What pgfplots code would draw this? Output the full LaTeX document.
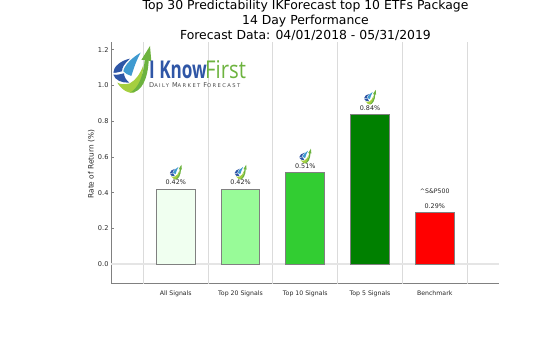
\documentclass[border=0pt]{standalone}
\usepackage{pgfplots}
\pgfplotsset{compat=1.18}
\usepackage{fontspec}
\setmainfont{DejaVu Sans}
\newfontfamily\logofont{Open Sans}
\definecolor{lgdark}{HTML}{2F56A6}
\definecolor{lgmid}{HTML}{3F9AD0}
\definecolor{lggreen}{HTML}{6DB33F}
\definecolor{lglime}{HTML}{A5CF3F}
\definecolor{spine}{HTML}{808080}
\definecolor{txt}{HTML}{262626}
\newcommand{\logoshapes}{%
  \fill[lgdark] (-56,-10) .. controls (-56,8) and (-34,26) .. (-6,32) .. controls (-22,18) and (-30,6) .. (-30,-6) .. controls (-40,-8) and (-50,-12) .. (-56,-10) -- cycle;
  \fill[lgdark] (-56,-16) .. controls (-44,-18) and (-34,-14) .. (-24,-12) .. controls (-24,-22) and (-18,-32) .. (-8,-40) .. controls (-30,-42) and (-52,-32) .. (-56,-16) -- cycle;
  \fill[lgmid] (-26,-6) .. controls (-24,10) and (-2,34) .. (26,50) .. controls (14,28) and (6,6) .. (-2,-20) .. controls (-12,-18) and (-20,-12) .. (-26,-6) -- cycle;
  \fill[lglime] (-44,-40) .. controls (-32,-62) and (-8,-74) .. (6,-70) .. controls (26,-52) and (32,-20) .. (34,12) .. controls (24,-14) and (12,-32) .. (-6,-42) .. controls (-20,-46) and (-34,-46) .. (-44,-40) -- cycle;
  \fill[lggreen] (-6,-70) .. controls (20,-56) and (34,-20) .. (38,28) -- (28,28) -- (54,70) -- (58,24) -- (50,26) .. controls (48,-24) and (30,-72) .. (-6,-70) -- cycle;
}
\begin{document}
\begin{tikzpicture}[x=1pt,y=1pt]
\path[use as bounding box] (0,0) rectangle (555,355);
\begin{axis}[
  at={(111pt,71pt)}, anchor=south west,
  scale only axis, width=388.5pt, height=242pt,
  xmin=-1, xmax=5, ymin=-0.112, ymax=1.244,
  axis x line*=bottom, axis y line*=left,
  axis line style={spine,line width=1pt,-},
  xtick={0,1,2,3,4},
  xticklabels={All Signals,Top 20 Signals,Top 10 Signals,Top 5 Signals,Benchmark},
  extra x ticks={-0.5,0.5,1.5,2.5,3.5,4.5},
  extra x tick labels={},
  extra x tick style={grid=major,major tick length=0pt,major grid style={black!14,line width=0.8pt}},
  ytick={0,0.2,0.4,0.6,0.8,1.0,1.2},
  yticklabel style={/pgf/number format/fixed,/pgf/number format/fixed zerofill,/pgf/number format/precision=1,font=\fontsize{6.6}{8}\selectfont,text=txt,xshift=1pt},
  /pgf/number format/assume math mode=true,
  xticklabel style={font=\fontsize{6.2}{7}\selectfont,text=txt,yshift=-1pt},
  x tick style={draw=none},
  y tick style={spine,line width=0.7pt},
  major tick length=2.5pt,
  ylabel={Rate of Return (\%)},
  ylabel style={font=\fontsize{7.4}{9}\selectfont,text=txt,at={(axis description cs:-0.033,0.495)},anchor=south},
  ybar, bar width=0.6, bar shift=0pt,
  nodes near coords,
  point meta=y,
  nodes near coords style={font=\fontsize{6.4}{7}\selectfont,text=txt,/pgf/number format/fixed,/pgf/number format/fixed zerofill,/pgf/number format/precision=2,inner sep=0pt,yshift=3.5pt},
  nodes near coords={\pgfmathprintnumber{\pgfplotspointmeta}\%},
  clip=false,
]
\draw[black!10,line width=1.2pt] (axis cs:-1,0) -- (axis cs:5,0);
\addplot[draw=black!50,line width=1pt,fill={rgb,255:red,240;green,255;blue,240}] coordinates {(0,0.42)};
\addplot[draw=black!50,line width=1pt,fill={rgb,255:red,152;green,251;blue,152}] coordinates {(1,0.42)};
\addplot[draw=black!50,line width=1pt,fill={rgb,255:red,50;green,205;blue,50}] coordinates {(2,0.51)};
\addplot[draw=black!50,line width=1pt,fill={rgb,255:red,0;green,128;blue,0}] coordinates {(3,0.84)};
\addplot[draw=black!50,line width=1pt,fill=red] coordinates {(4,0.29)};
\node[font=\fontsize{6.2}{7}\selectfont,text=txt] at (axis cs:4,0.405) {\textasciicircum S\&P500};
\coordinate (l0) at (axis cs:0,0.515);
\coordinate (l1) at (axis cs:1,0.515);
\coordinate (l2) at (axis cs:2,0.605);
\coordinate (l3) at (axis cs:3,0.935);
\end{axis}
\foreach \n in {l0,l1,l2,l3}{
  \begin{scope}[shift={(\n)},x=0.105pt,y=0.105pt]
  \logoshapes
  \end{scope}
}
\begin{scope}[shift={(132,285.7)},x=0.3333pt,y=0.3333pt]
\logoshapes
\end{scope}
\node[anchor=base west,inner sep=0pt,text=lgdark,transform shape,xscale=0.7,font=\logofont\bfseries\fontsize{24.5}{24}\selectfont] at (149,276) {I Know};
\node[anchor=base west,inner sep=0pt,text=lggreen,transform shape,xscale=0.83,font=\logofont\fontsize{24.5}{24}\selectfont] at (205,276) {First};
\node[anchor=base west,inner sep=0pt,text=black!70,font=\fontsize{6.6}{7}\selectfont] at (149,267.5) {\addfontfeatures{LetterSpace=27}D\fontsize{5.2}{7}\selectfont AILY \fontsize{6.6}{7}\selectfont M\fontsize{5.2}{7}\selectfont ARKET \fontsize{6.6}{7}\selectfont F\fontsize{5.2}{7}\selectfont ORECAST};
\node[font=\fontsize{12.4}{15.4}\selectfont,align=center,text=black,inner sep=0pt,anchor=north] at (305.5,355.5) {Top 30 Predictability IKForecast top 10 ETFs Package\\14 Day Performance\\Forecast Data: 04/01/2018 - 05/31/2019};
\end{tikzpicture}
\end{document}
